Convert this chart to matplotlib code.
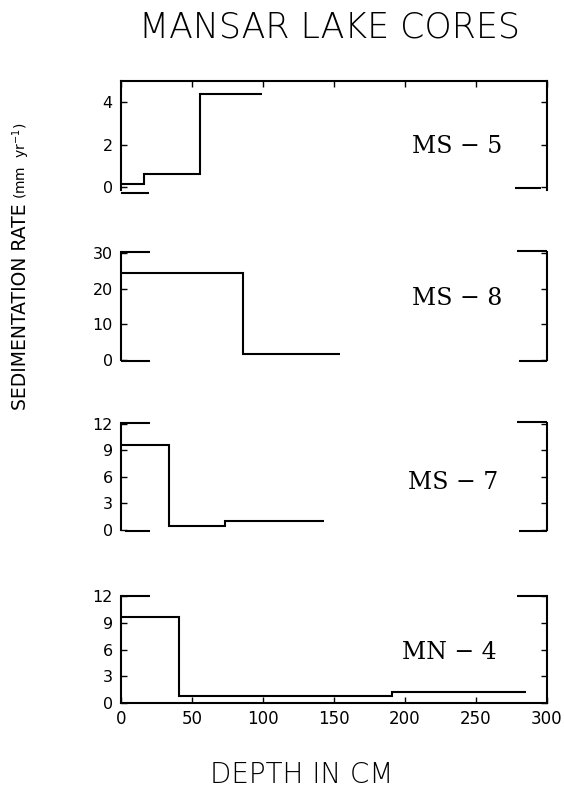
import numpy as np
import matplotlib.pyplot as plt

# sedimentation rate (mm/yr) as steps over depth intervals (cm)
ms5_depth = [0, 16, 56, 99]
ms5_rate = [0.15, 0.6, 4.4]
ms8_depth = [0, 86, 154]
ms8_rate = [24.5, 1.6]
ms7_depth = [0, 34, 73, 143]
ms7_rate = [9.6, 0.4, 1.0]
mn4_depth = [0, 41, 191, 285]
mn4_rate = [9.7, 0.8, 1.3]

core_names = ["MS \u2212 5", "MS \u2212 8", "MS \u2212 7", "MN \u2212 4"]
y_ticks = [[0, 2, 4], [0, 10, 20, 30], [0, 3, 6, 9, 12], [0, 3, 6, 9, 12]]
x_ticks = [0, 50, 100, 150, 200, 250, 300]

plt.rcParams['font.family'] = ['DejaVu Sans']
LW = 1.5

fig = plt.figure(figsize=(5.64, 7.89), dpi=100)

# panel boxes in figure fractions: left, bottom, width, height
boxes = [(0.2145, 0.7592, 0.7553, 0.1381),
         (0.2145, 0.5437, 0.7553, 0.1369),
         (0.2145, 0.3283, 0.7553, 0.1356),
         (0.2145, 0.1086, 0.7553, 0.1360)]
ylims = [(-0.15, 5.0), (0, 30.3), (0, 12.1), (0, 12.0)]
label_pos = [(0.79, 0.40), (0.79, 0.57), (0.78, 0.44), (0.77, 0.47)]
data = [(ms5_depth, ms5_rate), (ms8_depth, ms8_rate),
        (ms7_depth, ms7_rate), (mn4_depth, mn4_rate)]


def stub(ax, x0, x1, y):
    ax.plot([x0, x1], [y, y], transform=ax.transAxes, color='k', lw=LW,
            clip_on=False, solid_capstyle='butt')


for i, (box, (d, r)) in enumerate(zip(boxes, data)):
    ax = fig.add_axes(box)
    ax.stairs(r, d, baseline=None, color='k', lw=LW)
    ax.set_xlim(0, 300)
    ax.set_ylim(*ylims[i])
    ax.set_yticks(y_ticks[i])
    ax.set_xticks(x_ticks)
    for s in ax.spines.values():
        s.set_linewidth(LW)
    ax.tick_params(direction='in', length=4, width=1, labelsize=11.5,
                   right=True, left=True, pad=6)
    ax.text(*label_pos[i], core_names[i], transform=ax.transAxes,
            ha='center', va='center', family='DejaVu Serif', fontsize=17)

    if i == 0:
        ax.spines['bottom'].set_visible(False)
        ax.tick_params(axis='x', top=True, bottom=False, labelbottom=False)
        stub(ax, 0, 0.066, -0.03)
        stub(ax, 0.925, 0.985, 0.02)
    elif i == 3:
        ax.spines['top'].set_visible(False)
        ax.tick_params(axis='x', labelsize=12, pad=5)
        stub(ax, 0, 0.068, 1.0)
        stub(ax, 0.93, 1.0, 1.0)
    else:
        ax.spines['top'].set_visible(False)
        ax.spines['bottom'].set_visible(False)
        ax.tick_params(axis='x', bottom=False, labelbottom=False)
        stub(ax, 0, 0.068, 1.0)
        stub(ax, 0.93, 1.0, 1.01)
        stub(ax, 0.01 if i == 2 else 0, 0.068, -0.005)
        stub(ax, 0.935, 1.0, -0.005)

fig.text(0.585, 0.965, "MANSAR LAKE CORES", ha='center', va='center',
         fontsize=25, fontweight='light')
fig.text(0.535, 0.008, "DEPTH IN CM", ha='center', va='baseline',
         fontsize=20, fontweight='light')
fig.text(0.046, 0.7427, "SEDIMENTATION RATE", rotation=90, rotation_mode='anchor',
         ha='right', va='baseline', fontsize=13.5)
fig.text(0.046, 0.7475, r"(mm  yr$^{-1}$)", rotation=90, rotation_mode='anchor',
         ha='left', va='baseline', fontsize=10)

fig.savefig("out.png", dpi=100)
